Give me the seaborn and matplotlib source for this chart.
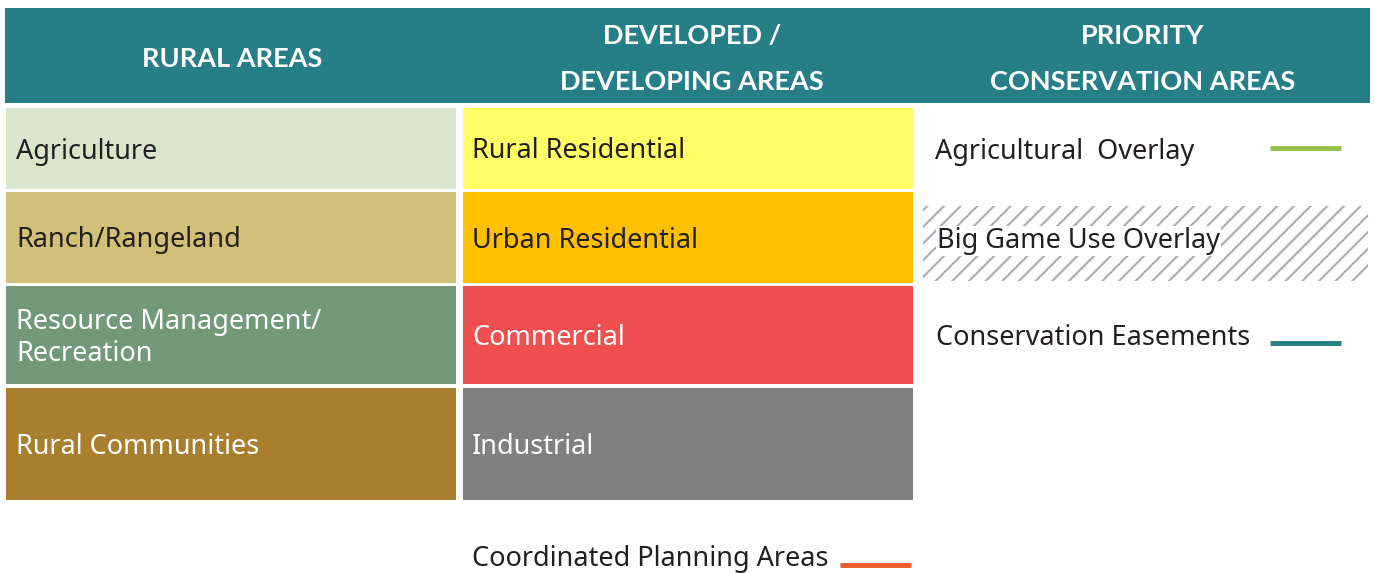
import matplotlib.pyplot as plt
import seaborn as sns
from matplotlib.patches import Rectangle

# legend content
headers = ["RURAL AREAS", "DEVELOPED /\nDEVELOPING AREAS", "PRIORITY\nCONSERVATION AREAS"]
rural_labels = ["Agriculture", "Ranch/Rangeland", "Resource Management/\nRecreation", "Rural Communities"]
rural_colors = ["#D9E6CC", "#D1C077", "#73997A", "#A87F2E"]
rural_text = ["#231F20", "#231F20", "white", "white"]
dev_labels = ["Rural Residential", "Urban Residential", "Commercial", "Industrial"]
dev_colors = ["#FFFF66", "#FFC000", "#EF4F4F", "#808080"]
dev_text = ["#231F20", "#231F20", "white", "white"]
overlay_labels = ["Agricultural  Overlay", "Big Game Use Overlay", "Conservation Easements"]
overlay_colors = ["#92C24A", "#B0ADB8", "#267F86"]
planning_label = "Coordinated Planning Areas"
planning_color = "#EE5A2A"

teal = "#267F86"
fs = 19.5

sns.set_theme(style="white")
plt.rcParams['font.family'] = ['Noto Sans', 'DejaVu Sans']
plt.rcParams['hatch.linewidth'] = 1.6

fig = plt.figure(figsize=(13.75, 5.73), dpi=100)
ax = fig.add_axes([0, 0, 1, 1])
ax.set_xlim(0, 1375)
ax.set_ylim(573, 0)
ax.axis('off')

# header band
ax.add_patch(Rectangle((5, 8), 1365, 95, color=teal, lw=0))
head_x = [232, 692, 1143]
for x, h in zip(head_x, headers):
    ax.text(x, 59, h, ha='center', va='center', color='white', fontsize=19.5,
            fontweight='bold', family=['Lato', 'DejaVu Sans'], linespacing=2.1)

# rows (top, bottom)
rows = [(108, 189), (192, 283), (286, 384), (388, 500)]
for i, (top, bot) in enumerate(rows):
    yc = (top + bot) / 2 + 3
    ax.add_patch(Rectangle((6, top), 450, bot - top, color=rural_colors[i], lw=0))
    ax.text(16, yc, rural_labels[i], ha='left', va='center',
            color=rural_text[i], fontsize=fs, linespacing=1.2)
    ax.add_patch(Rectangle((463, top), 450, bot - top, color=dev_colors[i], lw=0))
    ax.text(472, yc, dev_labels[i], ha='left', va='center',
            color=dev_text[i], fontsize=fs)

# priority conservation column
ax.text(935, 152, overlay_labels[0], ha='left', va='center', color='#231F20', fontsize=fs)
ax.plot([1270, 1341], [148, 148], color=overlay_colors[0], lw=3.5, solid_capstyle='butt')

ax.add_patch(Rectangle((923, 206), 445, 75, facecolor='white', edgecolor=overlay_colors[1],
                       hatch='//', lw=0))
ax.text(937, 241, overlay_labels[1], ha='left', va='center', color='#231F20', fontsize=fs,
        bbox=dict(facecolor='white', edgecolor='none', pad=1.0))

ax.text(936, 338, overlay_labels[2], ha='left', va='center', color='#231F20', fontsize=fs)
ax.plot([1270, 1341], [343, 343], color=overlay_colors[2], lw=3.5, solid_capstyle='butt')

# coordinated planning
ax.text(472, 559, planning_label, ha='left', va='center', color='#231F20', fontsize=fs)
ax.plot([840, 911], [565, 565], color=planning_color, lw=3.5, solid_capstyle='butt')

fig.savefig('out.png', dpi=100)
